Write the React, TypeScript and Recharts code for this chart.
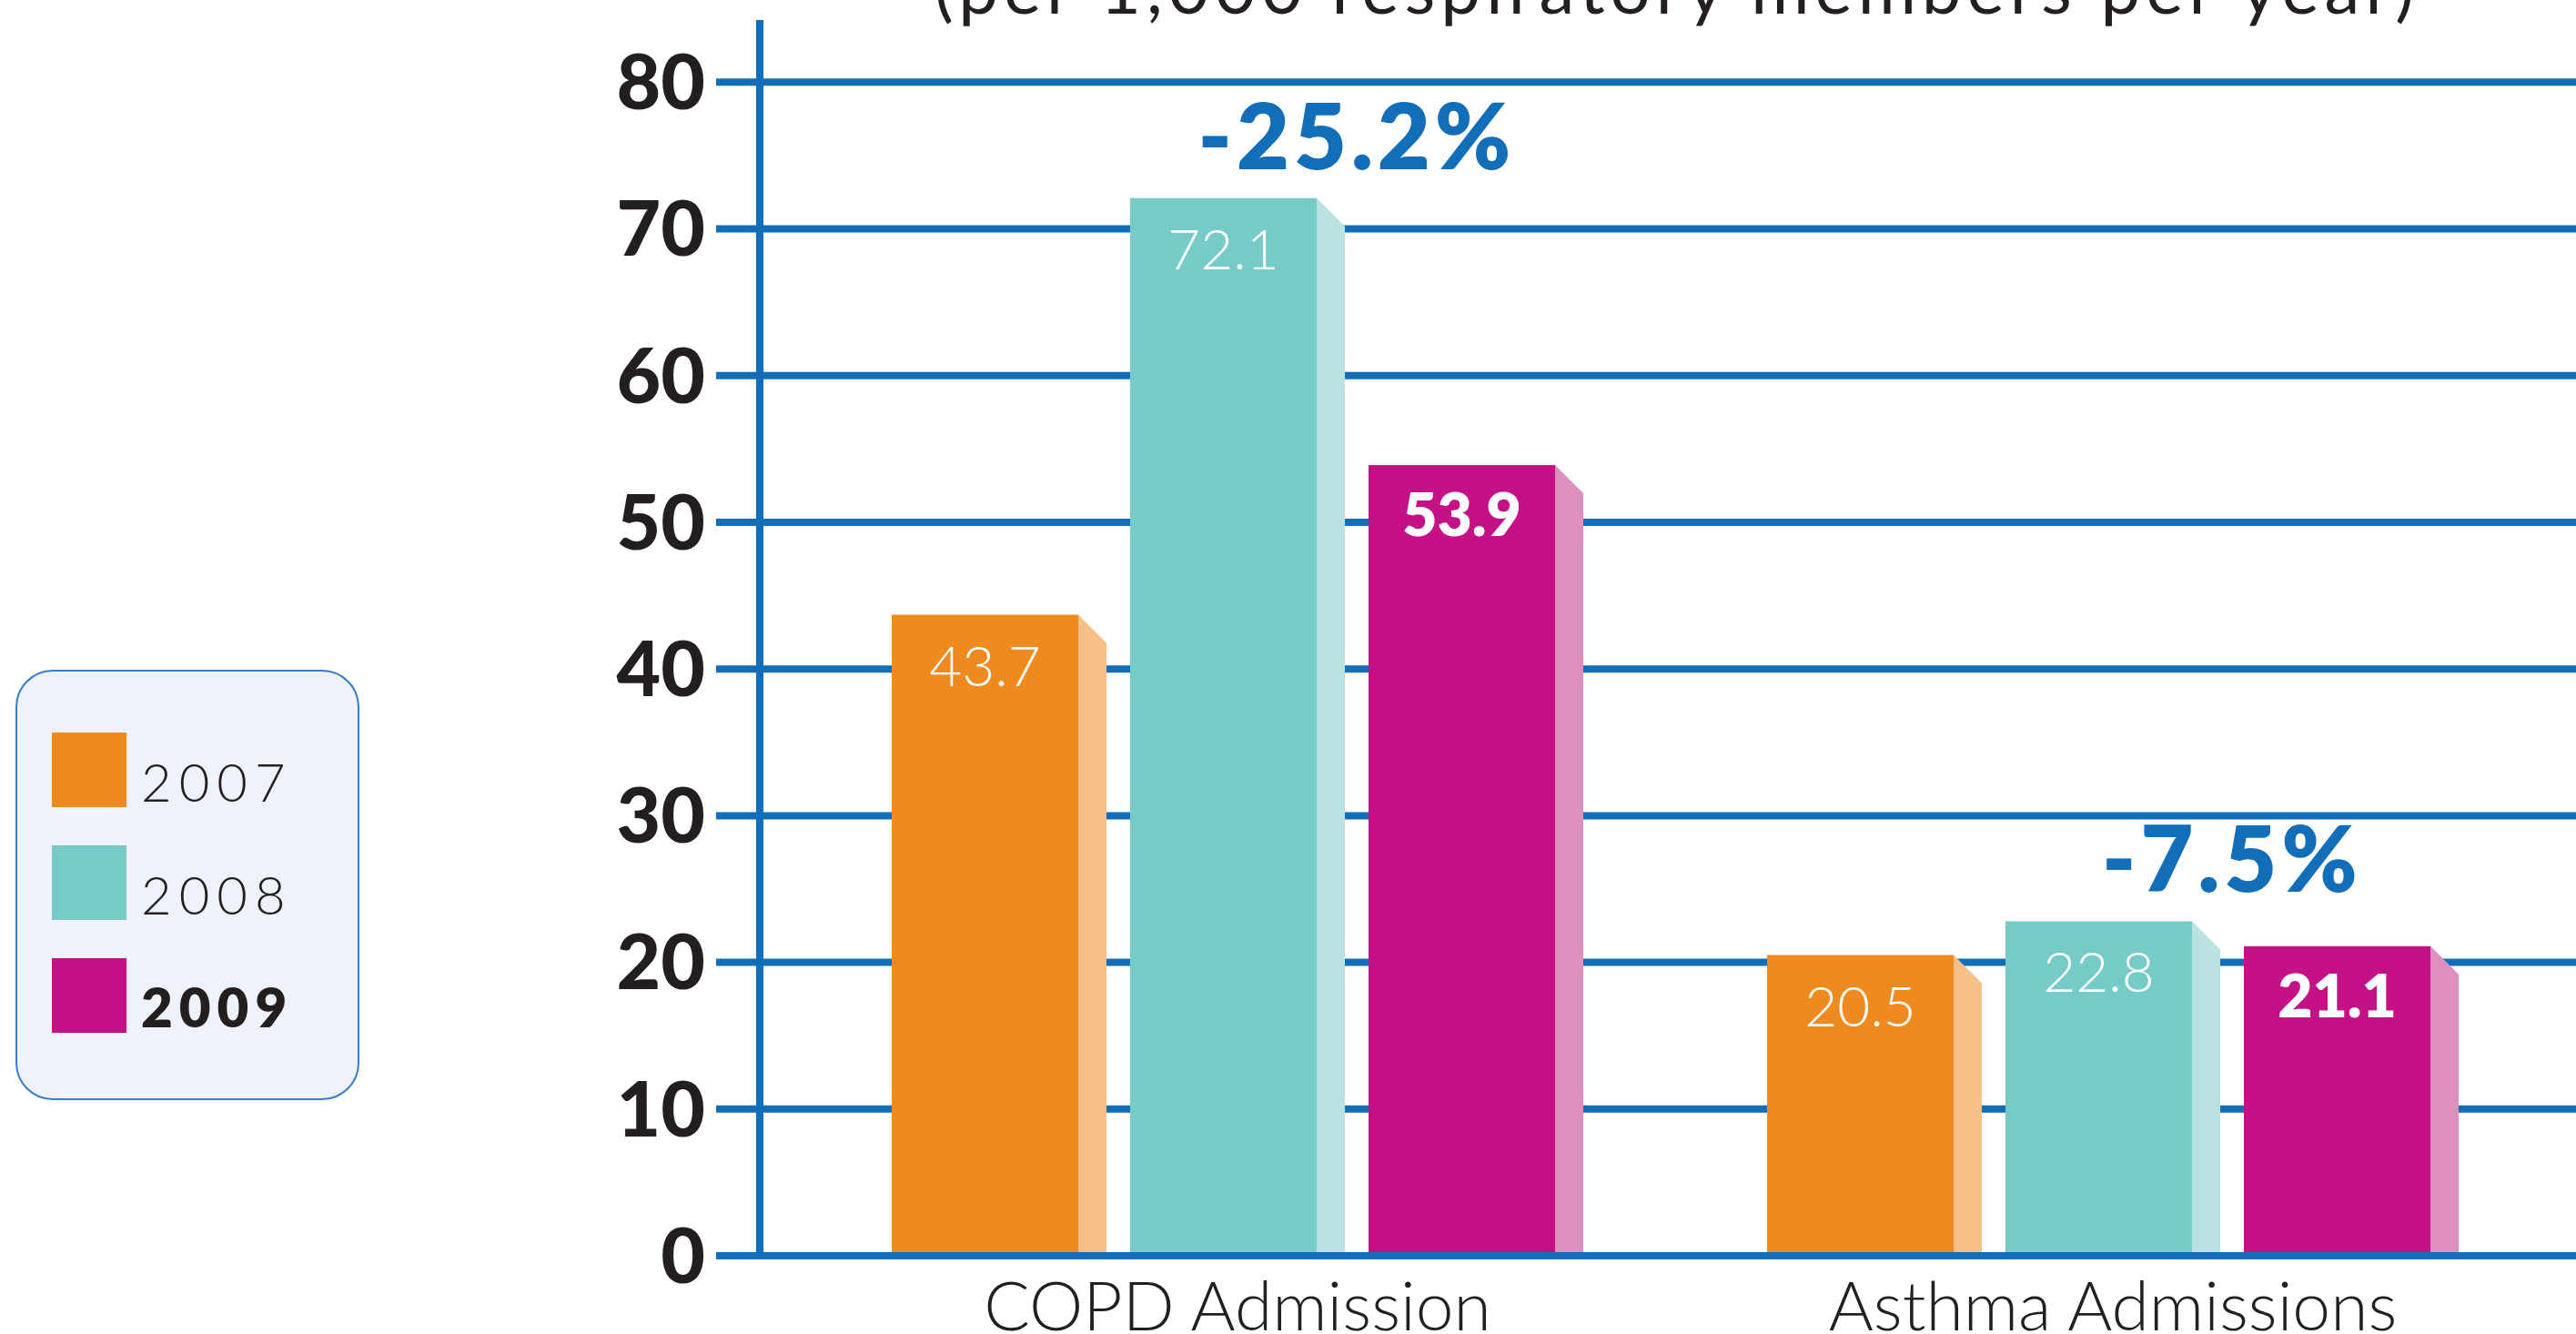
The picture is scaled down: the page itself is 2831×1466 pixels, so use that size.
import React from 'react';
import { BarChart, Bar, XAxis, YAxis, CartesianGrid, Legend, LabelList } from 'recharts';

const categories = ['COPD Admission', 'Asthma Admissions'];
const values2007 = [43.7, 20.5];
const values2008 = [72.1, 22.8];
const values2009 = [53.9, 21.1];
const seriesNames = ['2007', '2008', '2009'];
const changeLabels = ['-25.2%', '-7.5%'];
const yTicks = [0, 10, 20, 30, 40, 50, 60, 70, 80];
const titleText = '(per 1,000 respiratory members per year)';

const Y_MAX = 84.24;
const BLUE = '#126eb8';
const INK = '#231f20';
const FRONT = ['#ee8a1f', '#76cac7', '#c51186'];
const SIDE = ['#f7c089', '#b9e2e0', '#dc90bb'];
const SIDE_W = 31;
const FONT = 'Lato, "Open Sans", sans-serif';

const data = categories.map((category, i) => ({
  category,
  s2007: values2007[i],
  s2008: values2008[i],
  s2009: values2009[i],
}));

const makeShape = (si: number) => (props: any) => {
  const { x, y, width, height } = props;
  const fw = width - SIDE_W;
  return (
    <g>
      <rect x={x} y={y} width={fw} height={height} fill={FRONT[si]} />
      <polygon
        points={`${x + fw},${y} ${x + width},${y + SIDE_W} ${x + width},${y + height} ${x + fw},${y + height}`}
        fill={SIDE[si]}
      />
    </g>
  );
};

const makeValueLabel = (si: number) => (props: any) => {
  const { x, y, width, value } = props;
  const bold = si === 2;
  return (
    <text
      x={x + (width - SIDE_W) / 2}
      y={y + 78}
      textAnchor="middle"
      fill="#ffffff"
      fontFamily={FONT}
      fontSize={bold ? 66 : 62}
      fontWeight={bold ? 800 : 300}
    >
      {value}
    </text>
  );
};

const ChangeLabel = (props: any) => {
  const { x, y, width, value } = props;
  const idx = props.index ?? values2008.indexOf(value);
  return (
    <text
      x={x + width + 13}
      y={y - 32}
      textAnchor="middle"
      fill={BLUE}
      fontFamily={FONT}
      fontSize={100}
      fontWeight={800}
      letterSpacing={5}
    >
      {changeLabels[idx]}
    </text>
  );
};

const CategoryTick = (props: any) => {
  const { x, y, payload } = props;
  return (
    <text x={x} y={y + 82} textAnchor="middle" fill={INK} fontFamily={FONT} fontSize={75} fontWeight={300}>
      {payload.value}
    </text>
  );
};

const gridRows = (props: any) => {
  const { yAxis, offset } = props;
  if (yAxis && typeof yAxis.scale === 'function') {
    return yTicks.map((t) => yAxis.scale(t));
  }
  return yTicks.map((t) => offset.top + offset.height * (1 - t / Y_MAX));
};

const LegendBox = (props: any) => {
  const payload = props.payload || [];
  return (
    <svg width={378} height={473} style={{ display: 'block' }}>
      <rect x={1} y={1} width={376} height={471} rx={40} ry={40} fill="#eef2fa" stroke="#3a7dc3" strokeWidth={2} />
      {payload.map((p: any, i: number) => {
        const bold = i === payload.length - 1;
        return (
          <g key={p.value}>
            <rect x={40} y={69 + 124 * i} width={82} height={82} fill={p.color} />
            <text
              x={138}
              y={145 + 124 * i}
              fontFamily={FONT}
              fontSize={bold ? 60 : 58}
              fontWeight={bold ? 800 : 300}
              letterSpacing={bold ? 7 : 8}
              fill={INK}
            >
              {p.value}
            </text>
          </g>
        );
      })}
    </svg>
  );
};

export default function App() {
  return (
    <div style={{ position: 'absolute', left: 0, top: 0, width: 2831, height: 1466, background: '#ffffff', overflow: 'hidden' }}>
      <BarChart
        width={2831}
        height={1466}
        data={data}
        margin={{ top: 22, right: 0, bottom: 0, left: 0 }}
        barSize={236}
        barGap={26}
      >
        <CartesianGrid vertical={false} stroke={BLUE} strokeWidth={8} horizontalCoordinatesGenerator={gridRows} />
        <XAxis
          dataKey="category"
          height={86}
          padding={{ left: 44, right: 28 }}
          axisLine={{ stroke: BLUE, strokeWidth: 8 }}
          tickLine={false}
          tickSize={0}
          tickMargin={0}
          interval={0}
          tick={<CategoryTick />}
        />
        <YAxis
          type="number"
          domain={[0, Y_MAX]}
          ticks={yTicks}
          interval={0}
          allowDataOverflow
          width={835}
          axisLine={{ stroke: BLUE, strokeWidth: 8 }}
          tickLine={{ stroke: BLUE, strokeWidth: 8 }}
          tickSize={48}
          tickMargin={12}
          tick={{ fill: INK, fontSize: 84, fontWeight: 900, fontFamily: FONT }}
        />
        <Legend
          layout="vertical"
          align="center"
          verticalAlign="middle"
          wrapperStyle={{ left: 17, top: 736, width: 378, height: 473 }}
          content={<LegendBox />}
        />
        <Bar dataKey="s2007" name={seriesNames[0]} fill={FRONT[0]} shape={makeShape(0)} isAnimationActive={false}>
          <LabelList dataKey="s2007" content={makeValueLabel(0)} />
        </Bar>
        <Bar dataKey="s2008" name={seriesNames[1]} fill={FRONT[1]} shape={makeShape(1)} isAnimationActive={false}>
          <LabelList dataKey="s2008" content={makeValueLabel(1)} />
          <LabelList dataKey="s2008" content={ChangeLabel} />
        </Bar>
        <Bar dataKey="s2009" name={seriesNames[2]} fill={FRONT[2]} shape={makeShape(2)} isAnimationActive={false}>
          <LabelList dataKey="s2009" content={makeValueLabel(2)} />
        </Bar>
      </BarChart>
      <svg style={{ position: 'absolute', left: 0, top: 0 }} width={2831} height={40}>
        <text x={1027} y={15} fontFamily={FONT} fontSize={78} fill={INK} textLength={1626} lengthAdjust="spacing">
          {titleText}
        </text>
      </svg>
    </div>
  );
}
